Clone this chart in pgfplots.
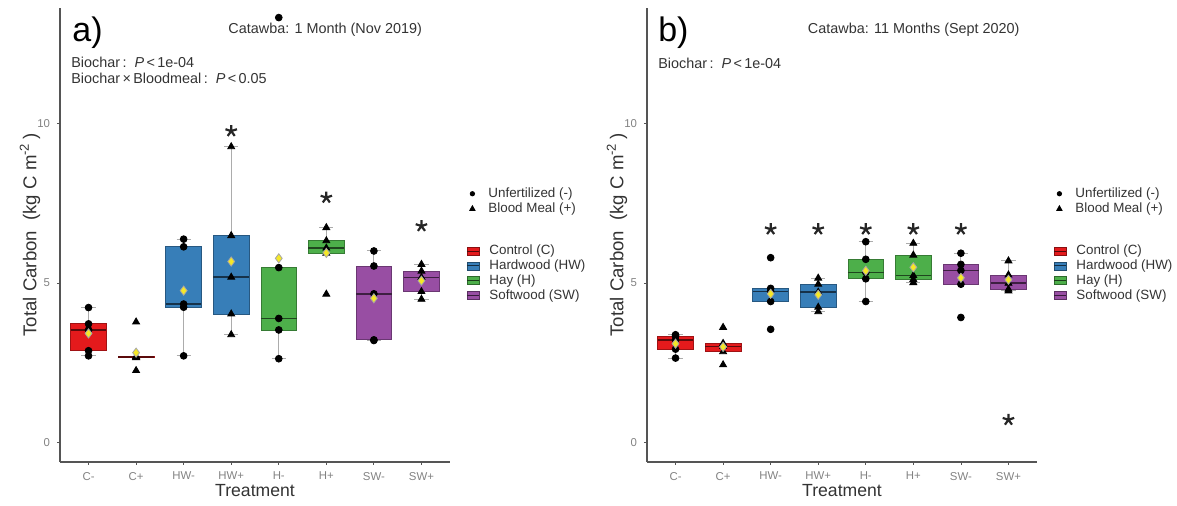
\documentclass[border=0pt]{standalone}
\usepackage{fontspec}
\setmainfont{Liberation Sans}
\usepackage{pgfplots}
\pgfplotsset{compat=1.18}
\usepgfplotslibrary{statistics}

\definecolor{cred}{RGB}{228,26,28}
\definecolor{cblue}{RGB}{55,126,184}
\definecolor{cgreen}{RGB}{77,175,74}
\definecolor{cpurple}{RGB}{152,78,163}
\definecolor{cyel}{RGB}{245,232,40}
\definecolor{txt}{RGB}{51,51,51}
\definecolor{ticktxt}{RGB}{130,130,130}
\definecolor{axln}{RGB}{85,85,85}

\tikzset{lbl/.style={anchor=west, inner sep=0pt, text=txt}}

\pgfplotsset{
  panel/.style={
    width=195pt, height=227pt, scale only axis,
    xmin=0.4, xmax=8.6, ymin=-0.6, ymax=13.6,
    axis x line*=bottom, axis y line*=left,
    axis line style={draw=axln, line width=0.9pt},
    xtick={1,...,8}, xticklabels={C-,C+,HW-,HW+,H-,H+,SW-,SW+},
    ytick={0,5,10},
    tick align=outside, major tick length=1.5pt,
    tick style={draw=axln, line width=0.4pt},
    tick label style={font=\fontsize{5.7}{6}\selectfont, text=ticktxt},
    /pgf/number format/assume math mode=true,
    xlabel={Treatment},
    ylabel={Total Carbon\ \ (kg C m\textsuperscript{-2}\,)},
    xlabel style={font=\fontsize{8.8}{10}\selectfont, text=txt,
      at={(axis description cs:0.5,-0.062)}, anchor=center},
    ylabel style={font=\fontsize{9.3}{10}\selectfont, text=txt,
      at={(axis description cs:-0.077,0.5)}, anchor=center},
    boxplot/draw direction=y,
    boxplot/box extend=0.75, boxplot/whisker extend=0.3,
    clip=false,
  },
  bx/.style={fill=#1, draw=#1!70!black, line width=0.4pt,
    boxplot/every median/.style={draw=#1!40!black, line width=0.8pt},
    boxplot/every whisker/.style={draw=gray!65, fill=none, line width=0.5pt}},
  pts/.style={only marks, mark=*, mark size=1.7pt, black},
  tri/.style={only marks, mark=triangle*, mark size=2pt, black},
  avg/.style={only marks, mark=diamond*, mark size=2.3pt,
    mark options={fill=cyel, draw=gray!70, line width=0.4pt}},
  sig/.style={only marks, mark=star, mark size=3pt, line width=1.1pt, black!85},
  leg/.style={width=195pt, height=227pt, scale only axis, hide axis,
    xmin=0, xmax=1, ymin=0, ymax=1,
    legend cell align=left,
    legend style={at={(axis description cs:1.041,#1)}, anchor=north west,
      draw=none, fill=none, inner sep=0pt, column sep=4.5pt, row sep=0pt,
      font=\fontsize{6.7}{7.5}\selectfont, text=txt,
      nodes={inner sep=0.5pt, text height=5pt, text depth=1.4pt}}},
  keybox/.style={legend image code/.code={
    \draw[fill=#1, draw=#1!60!black, line width=0.3pt] (0pt,-2pt) rectangle (6pt,2pt);
    \draw[#1!35!black, line width=0.5pt] (0pt,0pt) -- (6pt,0pt);}},
  keydot/.style={legend image code/.code={
    \path[draw=none, fill=none] (0pt,-2pt) rectangle (6pt,2pt);
    \fill[black] (3pt,0pt) circle (1.1pt);}},
  keytri/.style={legend image code/.code={
    \path[draw=none, fill=none] (0pt,-2pt) rectangle (6pt,2pt);
    \fill[black] (3pt,1.4pt) -- (1.7pt,-0.9pt) -- (4.3pt,-0.9pt) -- cycle;}},
}

\begin{document}
\begin{tikzpicture}
\path[use as bounding box] (0pt,0pt) rectangle (588.5pt,253pt);

% ---------- panel a ----------
\begin{axis}[panel, at={(30pt,22pt)}, anchor=south west]
\addplot[bx=cred, boxplot prepared={draw position=1, lower whisker=2.72, lower quartile=2.88, median=3.53, upper quartile=3.72, upper whisker=4.23}] coordinates {};
\addplot[bx=cred, boxplot prepared={draw position=2, lower whisker=2.66, lower quartile=2.66, median=2.68, upper quartile=2.70, upper whisker=2.70}] coordinates {};
\addplot[bx=cblue, boxplot prepared={draw position=3, lower whisker=2.72, lower quartile=4.24, median=4.34, upper quartile=6.13, upper whisker=6.37}] coordinates {};
\addplot[bx=cblue, boxplot prepared={draw position=4, lower whisker=3.38, lower quartile=4.03, median=5.18, upper quartile=6.48, upper whisker=9.26}] coordinates {};
\addplot[bx=cgreen, boxplot prepared={draw position=5, lower whisker=2.63, lower quartile=3.53, median=3.89, upper quartile=5.48, upper whisker=5.48}] coordinates {};
\addplot[bx=cgreen, boxplot prepared={draw position=6, lower whisker=5.93, lower quartile=5.93, median=6.09, upper quartile=6.32, upper whisker=6.73}] coordinates {};
\addplot[bx=cpurple, boxplot prepared={draw position=7, lower whisker=3.20, lower quartile=3.22, median=4.66, upper quartile=5.53, upper whisker=6.00}] coordinates {};
\addplot[bx=cpurple, boxplot prepared={draw position=8, lower whisker=4.49, lower quartile=4.73, median=5.17, upper quartile=5.37, upper whisker=5.58}] coordinates {};

\addplot[pts] coordinates {
  (1,4.23) (1,3.72) (1,3.53) (1,2.88) (1,2.72)
  (3,6.37) (3,6.13) (3,4.34) (3,4.24) (3,2.72)
  (5,13.3) (5,5.48) (5,3.89) (5,3.53) (5,2.63)
  (7,6.00) (7,5.53) (7,4.66) (7,3.22) (7,3.20)
};
\addplot[tri] coordinates {
  (2,3.78) (2,2.70) (2,2.68) (2,2.66) (2,2.26)
  (4,9.26) (4,6.48) (4,5.18) (4,4.03) (4,3.38)
  (6,6.73) (6,6.32) (6,6.09) (6,5.93) (6,4.65)
  (8,5.58) (8,5.37) (8,5.17) (8,4.73) (8,4.49)
};
\addplot[avg] coordinates {
  (1,3.42) (2,2.82) (3,4.76) (4,5.67) (5,5.77) (6,5.94) (7,4.52) (8,5.07)
};
\addplot[sig] coordinates {(4,9.75) (6,7.67) (8,6.78)};

\node[lbl, font=\fontsize{17}{17}\selectfont, text=black] at (axis description cs:0.031,0.945) {a)};
\node[anchor=center, font=\fontsize{7.2}{8}\selectfont, text=txt] at (axis description cs:0.68,0.951) {Catawba: 1 Month (Nov 2019)};
\node[lbl, font=\fontsize{7.2}{8}\selectfont] at (axis description cs:0.028,0.881) {Biochar\,:\ \ \textit{P}\,<\,1e-04};
\node[lbl, font=\fontsize{7.2}{8}\selectfont] at (axis description cs:0.028,0.846) {Biochar\,×\,Bloodmeal\,:\ \ \textit{P}\,<\,0.05};
\end{axis}

\begin{axis}[leg=0.608, at={(30pt,22pt)}, anchor=south west]
\addlegendimage{keydot}\addlegendentry{Unfertilized (-)}
\addlegendimage{keytri}\addlegendentry{Blood Meal (+)}
\end{axis}
\begin{axis}[leg=0.4815, at={(30pt,22pt)}, anchor=south west]
\addlegendimage{keybox=cred}\addlegendentry{Control (C)}
\addlegendimage{keybox=cblue}\addlegendentry{Hardwood (HW)}
\addlegendimage{keybox=cgreen}\addlegendentry{Hay (H)}
\addlegendimage{keybox=cpurple}\addlegendentry{Softwood (SW)}
\end{axis}

% ---------- panel b ----------
\begin{axis}[panel, at={(323.5pt,22pt)}, anchor=south west]
\addplot[bx=cred, boxplot prepared={draw position=1, lower whisker=2.65, lower quartile=2.93, median=3.22, upper quartile=3.34, upper whisker=3.38}] coordinates {};
\addplot[bx=cred, boxplot prepared={draw position=2, lower whisker=2.85, lower quartile=2.85, median=3.01, upper quartile=3.11, upper whisker=3.11}] coordinates {};
\addplot[bx=cblue, boxplot prepared={draw position=3, lower whisker=4.42, lower quartile=4.42, median=4.73, upper quartile=4.83, upper whisker=4.83}] coordinates {};
\addplot[bx=cblue, boxplot prepared={draw position=4, lower whisker=4.10, lower quartile=4.24, median=4.71, upper quartile=4.96, upper whisker=5.15}] coordinates {};
\addplot[bx=cgreen, boxplot prepared={draw position=5, lower whisker=4.42, lower quartile=5.13, median=5.33, upper quartile=5.74, upper whisker=6.29}] coordinates {};
\addplot[bx=cgreen, boxplot prepared={draw position=6, lower whisker=5.01, lower quartile=5.11, median=5.23, upper quartile=5.87, upper whisker=6.24}] coordinates {};
\addplot[bx=cpurple, boxplot prepared={draw position=7, lower whisker=4.96, lower quartile=4.96, median=5.39, upper quartile=5.58, upper whisker=5.93}] coordinates {};
\addplot[bx=cpurple, boxplot prepared={draw position=8, lower whisker=4.75, lower quartile=4.80, median=4.99, upper quartile=5.25, upper whisker=5.69}] coordinates {};

\addplot[pts] coordinates {
  (1,3.38) (1,3.34) (1,3.22) (1,2.93) (1,2.65)
  (3,5.79) (3,4.83) (3,4.73) (3,4.42) (3,3.55)
  (5,6.29) (5,5.74) (5,5.33) (5,5.13) (5,4.42)
  (7,5.93) (7,5.58) (7,5.39) (7,4.96) (7,3.92)
};
\addplot[tri] coordinates {
  (2,3.61) (2,3.11) (2,3.01) (2,2.85) (2,2.44)
  (4,5.15) (4,4.96) (4,4.71) (4,4.24) (4,4.10)
  (6,6.24) (6,5.87) (6,5.23) (6,5.11) (6,5.01)
  (8,5.69) (8,5.25) (8,4.99) (8,4.80) (8,4.75)
};
\addplot[avg] coordinates {
  (1,3.10) (2,3.00) (3,4.66) (4,4.63) (5,5.38) (6,5.49) (7,5.16) (8,5.10)
};
\addplot[sig] coordinates {(3,6.68) (4,6.68) (5,6.68) (6,6.68) (7,6.68) (8,0.72)};

\node[lbl, font=\fontsize{17}{17}\selectfont, text=black] at (axis description cs:0.028,0.945) {b)};
\node[anchor=center, font=\fontsize{7.2}{8}\selectfont, text=txt] at (axis description cs:0.684,0.951) {Catawba: 11 Months (Sept 2020)};
\node[lbl, font=\fontsize{7.2}{8}\selectfont] at (axis description cs:0.028,0.879) {Biochar\,:\ \ \textit{P}\,<\,1e-04};
\end{axis}

\begin{axis}[leg=0.608, at={(323.5pt,22pt)}, anchor=south west]
\addlegendimage{keydot}\addlegendentry{Unfertilized (-)}
\addlegendimage{keytri}\addlegendentry{Blood Meal (+)}
\end{axis}
\begin{axis}[leg=0.4815, at={(323.5pt,22pt)}, anchor=south west]
\addlegendimage{keybox=cred}\addlegendentry{Control (C)}
\addlegendimage{keybox=cblue}\addlegendentry{Hardwood (HW)}
\addlegendimage{keybox=cgreen}\addlegendentry{Hay (H)}
\addlegendimage{keybox=cpurple}\addlegendentry{Softwood (SW)}
\end{axis}
\end{tikzpicture}
\end{document}
